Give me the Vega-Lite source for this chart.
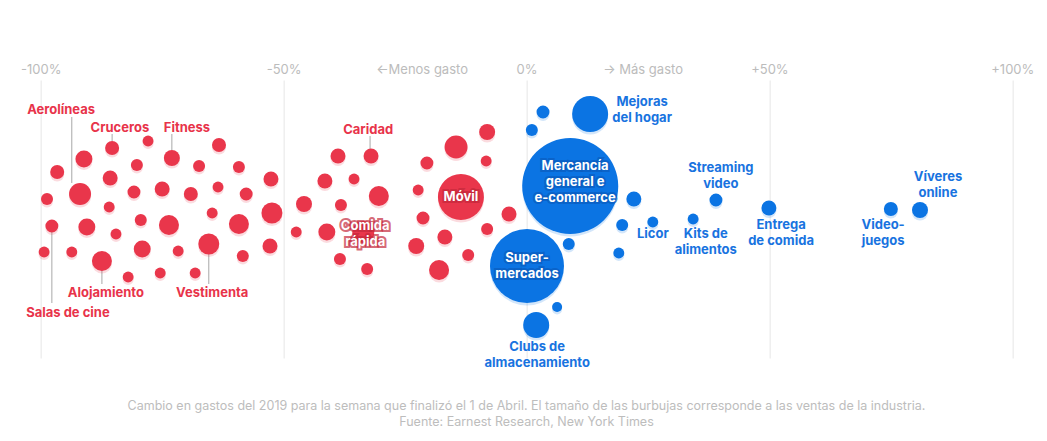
{
  "$schema": "https://vega.github.io/schema/vega-lite/v6.json",
  "width": 971.6,
  "height": 278,
  "autosize": "none",
  "padding": {"left": 40.7, "right": 34.7, "top": 80, "bottom": 83},
  "background": "white",
  "config": {"view": {"stroke": null}, "font": "Inter"},
  "title": {
    "text": "Cambio en gastos del 2019 para la semana que finalizó el 1 de Abril. El tamaño de las burbujas corresponde a las ventas de la industria.",
    "subtitle": "Fuente: Earnest Research, New York Times",
    "orient": "bottom",
    "anchor": "middle",
    "frame": "group",
    "offset": 30,
    "font": "Inter",
    "fontSize": 12.5,
    "fontWeight": "normal",
    "color": "#bdbdbd",
    "subtitleFont": "Inter",
    "subtitleFontSize": 12.5,
    "subtitleColor": "#bdbdbd",
    "subtitlePadding": 3
  },
  "datasets": {
    "burbujas": [
      {"cat": "", "cambio": -96.6, "pos": 33, "ventas": 49},
      {"cat": "", "cambio": -91.1, "pos": 46, "ventas": 72},
      {"cat": "Cruceros", "cambio": -85.3, "pos": 57, "ventas": 49},
      {"cat": "", "cambio": -77.9, "pos": 64, "ventas": 30},
      {"cat": "Fitness", "cambio": -73.0, "pos": 47, "ventas": 64},
      {"cat": "", "cambio": -63.3, "pos": 60, "ventas": 49},
      {"cat": "", "cambio": -98.7, "pos": 6, "ventas": 36},
      {"cat": "Aerolíneas", "cambio": -91.9, "pos": 11, "ventas": 121},
      {"cat": "", "cambio": -85.7, "pos": 27, "ventas": 56},
      {"cat": "", "cambio": -80.2, "pos": 40, "ventas": 36},
      {"cat": "", "cambio": -67.4, "pos": 39, "ventas": 36},
      {"cat": "", "cambio": -59.2, "pos": 38, "ventas": 36},
      {"cat": "", "cambio": -52.6, "pos": 26, "ventas": 56},
      {"cat": "", "cambio": -85.9, "pos": -2, "ventas": 30},
      {"cat": "", "cambio": -80.8, "pos": 13, "ventas": 42},
      {"cat": "", "cambio": -75.0, "pos": 16, "ventas": 56},
      {"cat": "", "cambio": -69.1, "pos": 11, "ventas": 49},
      {"cat": "", "cambio": -63.5, "pos": 18, "ventas": 30},
      {"cat": "", "cambio": -57.7, "pos": 11, "ventas": 42},
      {"cat": "", "cambio": -52.4, "pos": -8, "ventas": 110},
      {"cat": "Salas de cine", "cambio": -97.7, "pos": -21, "ventas": 42},
      {"cat": "", "cambio": -90.5, "pos": -22, "ventas": 72},
      {"cat": "", "cambio": -84.5, "pos": -29, "ventas": 30},
      {"cat": "", "cambio": -79.4, "pos": -15, "ventas": 36},
      {"cat": "", "cambio": -73.6, "pos": -20, "ventas": 100},
      {"cat": "", "cambio": -64.7, "pos": -8, "ventas": 30},
      {"cat": "", "cambio": -59.2, "pos": -19, "ventas": 100},
      {"cat": "", "cambio": -99.3, "pos": -47, "ventas": 30},
      {"cat": "", "cambio": -93.6, "pos": -47, "ventas": 30},
      {"cat": "Alojamiento", "cambio": -87.4, "pos": -56, "ventas": 100},
      {"cat": "", "cambio": -79.1, "pos": -44, "ventas": 72},
      {"cat": "", "cambio": -71.7, "pos": -46, "ventas": 30},
      {"cat": "Vestimenta", "cambio": -65.4, "pos": -39, "ventas": 110},
      {"cat": "", "cambio": -58.4, "pos": -51, "ventas": 36},
      {"cat": "", "cambio": -52.8, "pos": -41, "ventas": 56},
      {"cat": "", "cambio": -82.0, "pos": -72, "ventas": 30},
      {"cat": "", "cambio": -75.4, "pos": -68, "ventas": 30},
      {"cat": "", "cambio": -68.2, "pos": -68, "ventas": 30},
      {"cat": "", "cambio": -45.8, "pos": 1, "ventas": 64},
      {"cat": "", "cambio": -47.4, "pos": -27, "ventas": 30},
      {"cat": "", "cambio": -41.1, "pos": -27, "ventas": 72},
      {"cat": "", "cambio": -38.8, "pos": 49, "ventas": 56},
      {"cat": "", "cambio": -41.5, "pos": 24, "ventas": 56},
      {"cat": "", "cambio": -38.2, "pos": 0, "ventas": 36},
      {"cat": "", "cambio": -38.4, "pos": -54, "ventas": 36},
      {"cat": "Caridad", "cambio": -32.0, "pos": 49, "ventas": 56},
      {"cat": "", "cambio": -35.5, "pos": 26, "ventas": 30},
      {"cat": "", "cambio": -30.4, "pos": 9, "ventas": 100},
      {"cat": "Comida rápida", "cambio": -33.6, "pos": -27, "ventas": 121},
      {"cat": "", "cambio": -32.8, "pos": -64, "ventas": 36},
      {"cat": "", "cambio": -8.1, "pos": 73, "ventas": 64},
      {"cat": "", "cambio": -14.5, "pos": 58, "ventas": 132},
      {"cat": "", "cambio": -20.5, "pos": 42, "ventas": 42},
      {"cat": "", "cambio": -8.3, "pos": 44, "ventas": 30},
      {"cat": "", "cambio": -22.3, "pos": 15, "ventas": 30},
      {"cat": "Móvil", "cambio": -13.5, "pos": 8, "ventas": 529},
      {"cat": "", "cambio": -21.3, "pos": -13, "ventas": 42},
      {"cat": "", "cambio": -3.6, "pos": -9, "ventas": 56},
      {"cat": "", "cambio": -16.8, "pos": -32, "ventas": 56},
      {"cat": "", "cambio": -8.1, "pos": -24, "ventas": 36},
      {"cat": "", "cambio": -22.7, "pos": -41, "ventas": 64},
      {"cat": "", "cambio": -12.0, "pos": -50, "ventas": 36},
      {"cat": "", "cambio": -18.0, "pos": -65, "ventas": 100},
      {"cat": "", "cambio": 3.4, "pos": 93, "ventas": 42},
      {"cat": "", "cambio": 1.1, "pos": 75, "ventas": 36},
      {"cat": "Mejoras del hogar", "cambio": 13.1, "pos": 91, "ventas": 324},
      {"cat": "Mercancía general e e-commerce", "cambio": 9.0, "pos": 19, "ventas": 2304},
      {"cat": "", "cambio": 22.1, "pos": 6, "ventas": 56},
      {"cat": "", "cambio": 19.7, "pos": -20, "ventas": 36},
      {"cat": "Licor", "cambio": 26.0, "pos": -17, "ventas": 30},
      {"cat": "", "cambio": 8.7, "pos": -39, "ventas": 36},
      {"cat": "", "cambio": 19.0, "pos": -48, "ventas": 30},
      {"cat": "Supermercados", "cambio": 0.1, "pos": -61, "ventas": 1369},
      {"cat": "", "cambio": 6.3, "pos": -102, "ventas": 25},
      {"cat": "Clubs de almacenamiento", "cambio": 2.0, "pos": -120, "ventas": 169},
      {"cat": "Streaming video", "cambio": 39.0, "pos": 5, "ventas": 42},
      {"cat": "Kits de alimentos", "cambio": 34.3, "pos": -14, "ventas": 30},
      {"cat": "Entrega de comida", "cambio": 49.9, "pos": -3, "ventas": 56},
      {"cat": "Videojuegos", "cambio": 75.0, "pos": -4, "ventas": 49},
      {"cat": "Víveres online", "cambio": 81.0, "pos": -5, "ventas": 64}
    ],
    "etiquetas": [
      {"texto": "Aerolíneas", "cambio": -95.8, "pos": 95, "lado": "neg"},
      {"texto": "Cruceros", "cambio": -83.7, "pos": 77, "lado": "neg"},
      {"texto": "Fitness", "cambio": -69.9, "pos": 77, "lado": "neg"},
      {"texto": "Caridad", "cambio": -32.6, "pos": 75, "lado": "neg"},
      {"texto": "Salas de cine", "cambio": -94.4, "pos": -108, "lado": "neg"},
      {"texto": "Alojamiento", "cambio": -86.6, "pos": -88, "lado": "neg"},
      {"texto": "Vestimenta", "cambio": -64.7, "pos": -88, "lado": "neg"},
      {"texto": "Mejoras\ndel hogar", "cambio": 23.8, "pos": 103, "lado": "pos"},
      {"texto": "Licor", "cambio": 26.0, "pos": -29, "lado": "pos"},
      {"texto": "Kits de\nalimentos", "cambio": 36.9, "pos": -29, "lado": "pos"},
      {"texto": "Streaming\nvideo", "cambio": 40.0, "pos": 37, "lado": "pos"},
      {"texto": "Entrega\nde comida", "cambio": 52.4, "pos": -20, "lado": "pos"},
      {"texto": "Video-\njuegos", "cambio": 73.4, "pos": -20, "lado": "pos"},
      {"texto": "Víveres\nonline", "cambio": 84.7, "pos": 28, "lado": "pos"},
      {"texto": "Clubs de\nalmacenamiento", "cambio": 2.2, "pos": -142, "lado": "pos"}
    ],
    "internas": [
      {"texto": "Móvil", "cambio": -13.5, "pos": 8, "lado": "neg"},
      {"texto": "Comida\nrápida", "cambio": -33.2, "pos": -21, "lado": "neg"},
      {"texto": "Mercancía\ngeneral e\ne-commerce", "cambio": 10.0, "pos": 39, "lado": "pos"},
      {"texto": "Super-\nmercados", "cambio": 0.1, "pos": -53, "lado": "pos"}
    ],
    "guias": [
      {"cambio": -93.6, "desde": 88, "hasta": 22},
      {"cambio": -85.3, "desde": 71, "hasta": 64},
      {"cambio": -73.0, "desde": 71, "hasta": 55},
      {"cambio": -32.2, "desde": 69, "hasta": 56},
      {"cambio": -97.7, "desde": -27, "hasta": -98},
      {"cambio": -87.4, "desde": -65, "hasta": -79},
      {"cambio": -65.4, "desde": -49, "hasta": -79}
    ],
    "direcciones": [
      {"texto": "←Menos gasto", "cambio": -21.5, "pos": 135},
      {"texto": "→ Más gasto", "cambio": 24.0, "pos": 135}
    ]
  },
  "layer": [
    {
      "data": {"name": "guias"},
      "mark": {"type": "rule", "color": "#a8a8a8", "strokeWidth": 1},
      "encoding": {
        "x": {"field": "cambio", "type": "quantitative", "scale": {"domain": [-100, 100], "nice": false, "zero": false},
          "axis": {"orient": "top", "values": [-100, -50, 0, 50, 100], "grid": true, "gridColor": "#efefef", "gridWidth": 1.5, "domain": false, "ticks": false, "title": null, "labelColor": "#bcbcbc", "labelFont": "Inter", "labelFontSize": 13, "labelPadding": 4, "labelFlush": false, "labelOverlap": false, "labelExpr": "datum.value > 0 ? '+' + datum.value + '%' : datum.value + '%'"}},
        "y": {"field": "desde", "type": "quantitative", "scale": {"domain": [-153, 125], "nice": false, "zero": false}, "axis": null},
        "y2": {"field": "hasta"}
      }
    },
    {
      "data": {"name": "burbujas"},
      "mark": {"type": "circle", "opacity": 0.18, "yOffset": 2.5, "stroke": null},
      "encoding": {
        "x": {"field": "cambio", "type": "quantitative"},
        "y": {"field": "pos", "type": "quantitative"},
        "size": {"field": "ventas", "type": "quantitative", "scale": {"type": "linear", "domain": [0, 2304], "range": [0, 9216], "zero": true}, "legend": null},
        "color": {"condition": {"test": "datum.cambio < 0", "value": "#E9364B"}, "value": "#0B74E3"}
      }
    },
    {
      "data": {"name": "burbujas"},
      "mark": {"type": "circle", "opacity": 1},
      "encoding": {
        "x": {"field": "cambio", "type": "quantitative"},
        "y": {"field": "pos", "type": "quantitative"},
        "size": {"field": "ventas", "type": "quantitative", "legend": null},
        "color": {"condition": {"test": "datum.cambio < 0", "value": "#E9364B"}, "value": "#0B74E3"},
        "tooltip": [{"field": "cat"}, {"field": "cambio"}]
      }
    },
    {
      "data": {"name": "etiquetas"},
      "mark": {"type": "text", "font": "Inter", "fontSize": 13, "fontWeight": "bold", "lineBreak": "\n", "lineHeight": 16, "align": "center", "baseline": "middle"},
      "encoding": {
        "x": {"field": "cambio", "type": "quantitative"},
        "y": {"field": "pos", "type": "quantitative"},
        "text": {"field": "texto"},
        "color": {"condition": {"test": "datum.lado == 'neg'", "value": "#E8334A"}, "value": "#1873E0"}
      }
    },
    {
      "data": {"name": "internas"},
      "mark": {"type": "text", "font": "Inter", "fontSize": 13, "fontWeight": "bold", "lineBreak": "\n", "lineHeight": 16, "align": "center", "baseline": "middle", "strokeWidth": 4, "strokeOpacity": 0.7, "opacity": 1},
      "encoding": {
        "x": {"field": "cambio", "type": "quantitative"},
        "y": {"field": "pos", "type": "quantitative"},
        "text": {"field": "texto"},
        "color": {"condition": {"test": "datum.lado == 'neg'", "value": "#C4283B"}, "value": "#0A5CBE"},
        "stroke": {"condition": {"test": "datum.lado == 'neg'", "value": "#C4283B"}, "value": "#0A5CBE"}
      }
    },
    {
      "data": {"name": "internas"},
      "mark": {"type": "text", "font": "Inter", "fontSize": 13, "fontWeight": "bold", "lineBreak": "\n", "lineHeight": 16, "align": "center", "baseline": "middle", "color": "white"},
      "encoding": {
        "x": {"field": "cambio", "type": "quantitative"},
        "y": {"field": "pos", "type": "quantitative"},
        "text": {"field": "texto"}
      }
    },
    {
      "data": {"name": "direcciones"},
      "mark": {"type": "text", "font": "Inter", "fontSize": 13, "align": "center", "baseline": "middle", "color": "#bcbcbc"},
      "encoding": {
        "x": {"field": "cambio", "type": "quantitative"},
        "y": {"field": "pos", "type": "quantitative"},
        "text": {"field": "texto"}
      }
    }
  ]
}
